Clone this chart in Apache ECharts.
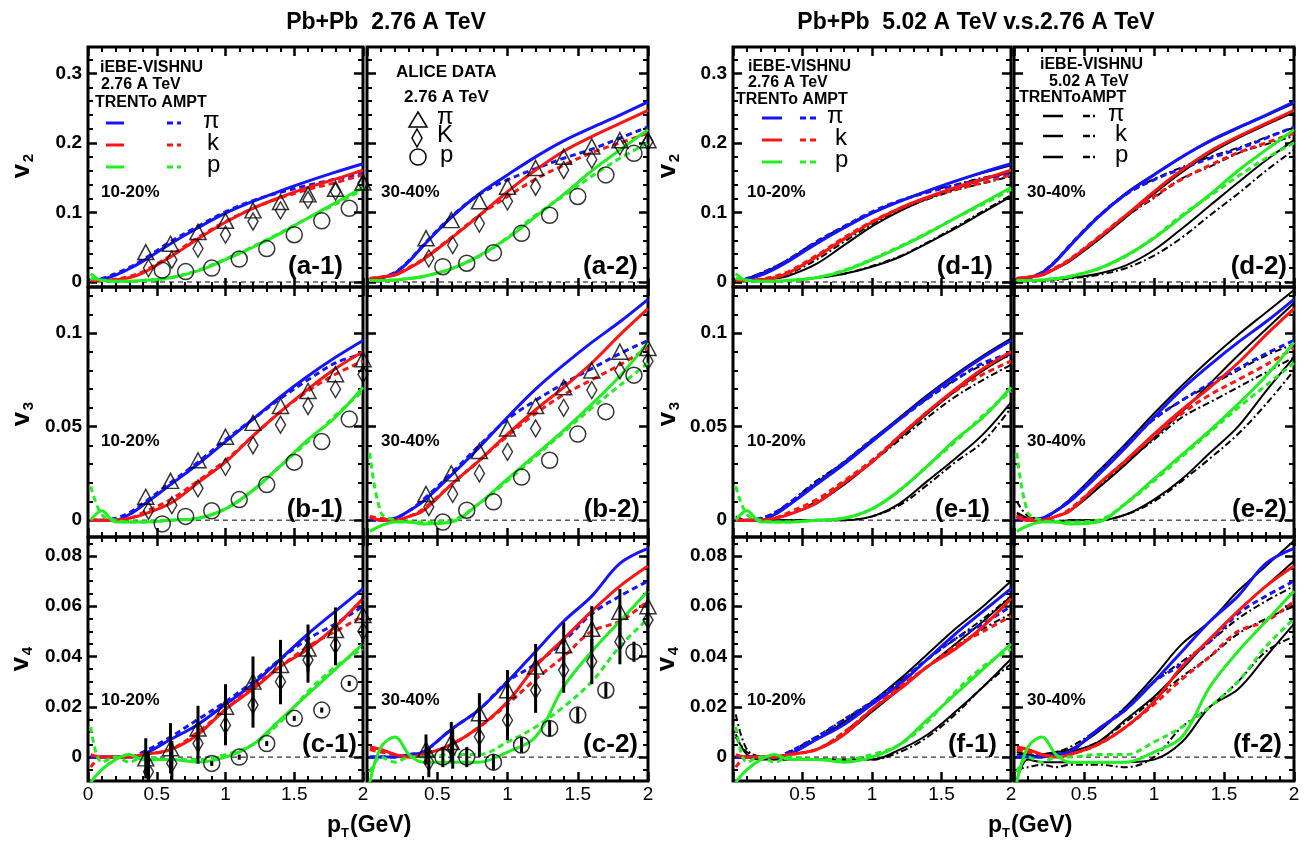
<!DOCTYPE html>
<html><head><meta charset="utf-8">
<script src="https://cdn.jsdelivr.net/npm/echarts@6/dist/echarts.min.js"></script>
<style>html,body{margin:0;padding:0;background:#fff}#c{width:1309px;height:843px}</style>
</head><body><div id="c"></div>
<script>
// ---------------- DATA ----------------
const PT = [0.02,0.1,0.2,0.3,0.4,0.6,0.8,1.0,1.2,1.4,1.6,1.8,2.0];

// iEBE-VISHNU 2.76 A TeV : TRENTo (_T) and AMPT (_A) initial conditions
// v2 10-20%
const A1_pi_T = [0.003,0.004,0.010,0.019,0.030,0.055,0.078,0.099,0.116,0.131,0.145,0.158,0.170];
const A1_pi_A = [0.003,0.005,0.012,0.021,0.032,0.058,0.080,0.101,0.117,0.129,0.139,0.148,0.156];
const A1_k_T  = [0.002,0.002,0.003,0.006,0.013,0.036,0.062,0.086,0.106,0.122,0.136,0.148,0.161];
const A1_k_A  = [0.002,0.002,0.004,0.008,0.015,0.038,0.064,0.087,0.106,0.121,0.133,0.143,0.154];
const A1_p_T  = [0.012,0.002,0.001,0.001,0.002,0.006,0.016,0.032,0.050,0.070,0.092,0.114,0.136];
const A1_p_A  = [0.005,0.003,0.001,0.001,0.002,0.006,0.017,0.033,0.051,0.071,0.092,0.112,0.133];
// v2 30-40%
const A2_pi_T = [0.004,0.006,0.013,0.030,0.052,0.093,0.127,0.154,0.180,0.203,0.222,0.240,0.259];
const A2_pi_A = [0.004,0.006,0.014,0.031,0.053,0.094,0.126,0.147,0.163,0.178,0.191,0.207,0.223];
const A2_k_T  = [0.005,0.007,0.010,0.020,0.032,0.063,0.096,0.130,0.161,0.188,0.209,0.228,0.247];
const A2_k_A  = [0.005,0.007,0.011,0.021,0.033,0.064,0.096,0.123,0.148,0.168,0.186,0.200,0.214];
const A2_p_T  = [0.002,0.002,0.003,0.005,0.008,0.019,0.038,0.063,0.094,0.126,0.160,0.190,0.219];
const A2_p_A  = [0.002,0.002,0.003,0.005,0.008,0.019,0.037,0.064,0.096,0.124,0.152,0.178,0.200];
// v3 10-20%
const B1_pi_T = [0.000,0.000,0.000,0.003,0.008,0.019,0.030,0.042,0.054,0.066,0.077,0.087,0.096];
const B1_pi_A = [0.000,0.000,0.001,0.004,0.009,0.020,0.031,0.043,0.054,0.065,0.075,0.084,0.089];
const B1_k_T  = [0.000,0.000,0.000,0.001,0.003,0.009,0.020,0.031,0.045,0.058,0.070,0.081,0.090];
const B1_k_A  = [0.000,0.000,0.000,0.001,0.004,0.011,0.021,0.032,0.045,0.058,0.069,0.078,0.085];
const B1_p_T  = [0.000,0.005,-0.001,-0.001,-0.001,0.000,0.001,0.006,0.016,0.029,0.043,0.055,0.071];
const B1_p_A  = [0.018,0.003,0.000,-0.001,-0.001,0.000,0.001,0.006,0.016,0.029,0.042,0.056,0.069];
// v3 30-40%
const B2_pi_T = [0.001,0.000,0.001,0.005,0.010,0.024,0.039,0.055,0.070,0.083,0.095,0.106,0.118];
const B2_pi_A = [0.001,0.000,0.001,0.005,0.011,0.025,0.040,0.054,0.064,0.073,0.081,0.089,0.096];
const B2_k_T  = [0.002,0.000,0.000,0.002,0.005,0.019,0.032,0.046,0.059,0.071,0.084,0.099,0.113];
const B2_k_A  = [0.002,0.001,0.000,0.002,0.006,0.019,0.032,0.045,0.057,0.067,0.075,0.083,0.092];
const B2_p_T  = [-0.006,-0.003,-0.001,-0.001,-0.002,-0.001,0.009,0.022,0.035,0.048,0.062,0.077,0.095];
const B2_p_A  = [0.036,0.004,0.000,-0.001,-0.001,0.000,0.009,0.021,0.034,0.047,0.060,0.072,0.084];
// v4 10-20%
const C1_pi_T = [0.000,0.000,0.000,0.000,0.001,0.007,0.013,0.021,0.029,0.039,0.049,0.058,0.067];
const C1_pi_A = [0.000,0.000,0.000,0.000,0.002,0.008,0.015,0.022,0.030,0.039,0.047,0.053,0.060];
const C1_k_T  = [0.001,0.000,0.000,0.000,0.001,0.003,0.009,0.019,0.027,0.036,0.043,0.052,0.063];
const C1_k_A  = [-0.004,0.000,0.000,0.000,0.001,0.003,0.010,0.019,0.028,0.036,0.044,0.050,0.056];
const C1_p_T  = [-0.010,-0.005,-0.001,0.001,-0.001,-0.001,-0.002,0.000,0.005,0.015,0.025,0.035,0.045];
const C1_p_A  = [0.012,-0.002,0.000,-0.002,0.000,-0.001,-0.001,0.001,0.005,0.014,0.026,0.036,0.043];
// v4 30-40%
const C2_pi_T = [0.000,0.000,0.000,0.001,0.002,0.011,0.019,0.030,0.042,0.054,0.064,0.077,0.083];
const C2_pi_A = [0.000,0.000,0.000,0.001,0.002,0.011,0.019,0.030,0.037,0.046,0.057,0.064,0.070];
const C2_k_T  = [0.004,0.003,0.001,0.000,0.001,0.005,0.012,0.022,0.036,0.047,0.058,0.068,0.076];
const C2_k_A  = [0.003,0.002,0.001,0.000,0.001,0.005,0.012,0.021,0.031,0.040,0.050,0.054,0.062];
const C2_p_T  = [-0.010,0.004,0.008,0.001,-0.002,-0.002,-0.002,0.002,0.008,0.028,0.042,0.054,0.066];
const C2_p_A  = [-0.006,0.000,-0.002,0.000,0.000,0.001,0.001,0.006,0.012,0.020,0.030,0.044,0.055];

// iEBE-VISHNU 5.02 A TeV (black curves)
const D1_pi_T = [0.003,0.005,0.012,0.021,0.032,0.057,0.079,0.099,0.116,0.131,0.145,0.157,0.168];
const D1_pi_A = [0.003,0.005,0.013,0.022,0.033,0.058,0.080,0.100,0.117,0.130,0.140,0.150,0.158];
const D1_k_T  = [0.002,0.002,0.003,0.005,0.009,0.026,0.053,0.080,0.102,0.120,0.134,0.147,0.158];
const D1_k_A  = [0.002,0.002,0.004,0.007,0.012,0.032,0.058,0.083,0.103,0.119,0.132,0.142,0.152];
const D1_p_T  = [0.002,0.002,0.001,0.001,0.002,0.006,0.012,0.022,0.036,0.056,0.077,0.100,0.123];
const D1_p_A  = [0.003,0.002,0.001,0.001,0.002,0.006,0.012,0.023,0.037,0.057,0.079,0.102,0.125];
const D2_pi_T = [0.004,0.006,0.014,0.031,0.053,0.094,0.128,0.155,0.180,0.202,0.221,0.239,0.257];
const D2_pi_A = [0.004,0.006,0.014,0.031,0.053,0.094,0.126,0.148,0.165,0.180,0.193,0.208,0.222];
const D2_k_T  = [0.005,0.007,0.010,0.019,0.030,0.060,0.093,0.127,0.158,0.185,0.207,0.226,0.244];
const D2_k_A  = [0.005,0.007,0.011,0.020,0.031,0.061,0.094,0.121,0.149,0.166,0.185,0.198,0.210];
const D2_p_T  = [0.002,0.002,0.002,0.004,0.006,0.012,0.024,0.046,0.077,0.110,0.143,0.175,0.204];
const D2_p_A  = [0.002,0.002,0.002,0.003,0.005,0.010,0.020,0.038,0.064,0.096,0.127,0.160,0.190];
const E1_pi_T = [0.000,0.000,0.000,0.003,0.008,0.020,0.031,0.043,0.055,0.067,0.078,0.088,0.097];
const E1_pi_A = [0.000,0.000,0.001,0.004,0.009,0.021,0.031,0.043,0.054,0.065,0.075,0.083,0.088];
const E1_k_T  = [0.000,0.000,0.000,0.001,0.003,0.009,0.019,0.031,0.044,0.057,0.069,0.080,0.089];
const E1_k_A  = [0.000,0.000,0.000,0.001,0.003,0.010,0.020,0.031,0.043,0.055,0.066,0.075,0.083];
const E1_p_T  = [0.000,0.000,0.000,0.000,0.000,0.000,0.000,0.002,0.009,0.021,0.033,0.046,0.063];
const E1_p_A  = [0.002,0.000,0.000,0.000,0.000,0.000,0.000,0.002,0.008,0.019,0.031,0.042,0.060];
const E2_pi_T = [0.002,0.001,0.001,0.005,0.011,0.026,0.041,0.057,0.072,0.086,0.099,0.111,0.123];
const E2_pi_A = [0.003,0.001,0.001,0.005,0.011,0.025,0.040,0.054,0.064,0.072,0.080,0.088,0.094];
const E2_k_T  = [0.002,0.001,0.000,0.002,0.005,0.017,0.030,0.044,0.058,0.073,0.088,0.102,0.116];
const E2_k_A  = [0.002,0.001,0.000,0.002,0.005,0.018,0.031,0.043,0.055,0.063,0.071,0.079,0.087];
const E2_p_T  = [0.004,0.001,-0.001,-0.001,0.000,0.000,0.003,0.011,0.022,0.036,0.050,0.069,0.087];
const E2_p_A  = [0.010,0.002,0.000,-0.001,0.000,0.000,0.003,0.010,0.021,0.033,0.046,0.062,0.080];
const F1_pi_T = [0.000,0.000,0.000,0.000,0.001,0.007,0.014,0.022,0.031,0.041,0.051,0.060,0.070];
const F1_pi_A = [0.008,0.002,0.000,0.000,0.002,0.008,0.015,0.022,0.030,0.039,0.047,0.055,0.064];
const F1_k_T  = [0.000,0.000,0.000,0.000,0.001,0.003,0.009,0.018,0.027,0.036,0.045,0.054,0.064];
const F1_k_A  = [0.000,0.000,0.000,0.000,0.001,0.003,0.010,0.019,0.028,0.036,0.044,0.051,0.057];
const F1_p_T  = [0.009,0.001,-0.001,-0.001,-0.001,-0.001,-0.001,-0.001,0.003,0.009,0.018,0.028,0.039];
const F1_p_A  = [0.017,0.003,0.000,-0.001,-0.001,-0.001,-0.001,-0.001,0.002,0.008,0.017,0.028,0.037];
const F2_pi_T = [0.000,0.000,0.001,0.002,0.003,0.010,0.020,0.032,0.045,0.054,0.066,0.076,0.086];
const F2_pi_A = [0.000,0.000,0.001,0.002,0.004,0.011,0.020,0.030,0.038,0.046,0.055,0.062,0.068];
const F2_k_T  = [0.001,0.001,0.000,0.001,0.002,0.006,0.015,0.024,0.035,0.047,0.058,0.068,0.078];
const F2_k_A  = [0.002,0.001,0.000,0.001,0.002,0.006,0.014,0.023,0.032,0.040,0.049,0.055,0.060];
const F2_p_T  = [-0.009,-0.001,-0.002,-0.002,-0.002,-0.002,-0.002,-0.001,0.006,0.020,0.027,0.040,0.053];
const F2_p_A  = [-0.005,-0.004,-0.003,-0.004,-0.003,-0.003,-0.004,0.000,0.012,0.020,0.030,0.042,0.048];

// ALICE data 2.76 A TeV
const X_PI = [0.42,0.6,0.8,1.0,1.2,1.4,1.6,1.8,2.0];
const X_K  = [0.44,0.61,0.8,1.0,1.2,1.4,1.6,1.8,2.0];
const X_P  = [0.54,0.71,0.9,1.1,1.3,1.5,1.7,1.9];
const A1_d_pi = [0.043,0.055,0.072,0.088,0.103,0.115,0.126,0.134,0.143];
const A1_d_k  = [0.020,0.032,0.048,0.068,0.087,0.103,0.118,0.130,0.142];
const A1_d_p  = [0.017,0.015,0.020,0.033,0.048,0.068,0.088,0.106];
const A2_d_pi = [0.063,0.089,0.116,0.137,0.164,0.180,0.195,0.204,0.204];
const A2_d_k  = [0.034,0.053,0.084,0.116,0.137,0.161,0.176,0.195,0.202];
const A2_d_p  = [0.022,0.027,0.042,0.070,0.096,0.123,0.154,0.185];
const B1_d_pi = [0.0125,0.021,0.032,0.0446,0.052,0.061,0.069,0.078,0.086];
const B1_d_k  = [0.005,0.008,0.017,0.0285,0.040,0.051,0.061,0.070,0.078];
const B1_d_p  = [-0.002,0.002,0.005,0.011,0.019,0.031,0.042,0.054];
const B2_d_pi = [0.014,0.025,0.037,0.049,0.061,0.071,0.080,0.090,0.092];
const B2_d_k  = [0.007,0.014,0.025,0.0365,0.049,0.060,0.0695,0.080,0.085];
const B2_d_p  = [-0.001,0.0053,0.0098,0.023,0.032,0.046,0.058,0.0775];
const C1_d_pi = [-0.0005,0.0035,0.0114,0.020,0.030,0.0366,0.0432,0.0505,0.0565];
const C1_d_k  = [-0.0058,-0.0025,0.0054,0.0127,0.0207,0.030,0.0386,0.0445,0.050];
const C1_d_p  = [null,null,-0.0025,0.0,0.0054,0.0154,0.0187,0.0293];
const C1_e_pi = [0.008,0.010,0.009,0.009,0.010,0.010,0.0095,0.009,0.007];
const C1_e_k  = [0.008,0.009,0.008,0.008,0.009,0.009,0.009,0.008,0.007];
const C1_e_p  = [0,0,0.001,0.001,0.001,0.001,0.001,0.001];
const C2_d_pi = [0.003,0.006,0.0174,0.0266,0.036,0.0445,0.051,0.0578,0.060];
const C2_d_k  = [-0.002,0.0034,0.0081,0.0147,0.0266,0.0346,0.038,0.0459,0.0545];
const C2_d_p  = [0.0,0.0,-0.002,0.0048,0.0114,0.0167,0.0266,0.0419];
const C2_e_pi = [0.006,0.008,0.008,0.008,0.009,0.009,0.009,0.009,0.008];
const C2_e_k  = [0.006,0.008,0.008,0.008,0.009,0.009,0.009,0.009,0.008];
const C2_e_p  = [0.004,0.004,0.003,0.003,0.003,0.003,0.003,0.004];

// tick labels
const X_TICKS = [0,0.5,1,1.5,2];
const V2_TICKS = [0,0.1,0.2,0.3];
const V3_TICKS = [0,0.05,0.1];
const V4_TICKS = [0,0.02,0.04,0.06,0.08];

// ---------------- LAYOUT ----------------
const FONT = "'Liberation Sans', Arial, Helvetica, sans-serif";
const COLS = [{left:88,width:275},{left:367,width:281},{left:733,width:278},{left:1014,width:280}];
const ROWS = [
  {top:47, height:240, min:-0.0072, max:0.338, major:V2_TICKS, step:0.02, from:0, to:0.34},
  {top:287,height:250, min:-0.009,  max:0.1246,major:V3_TICKS, step:0.01, from:0, to:0.125},
  {top:537,height:244, min:-0.0095, max:0.0875,major:V4_TICKS, step:0.005, from:-0.005, to:0.0875}
];
const BLUE='#1414ff', RED='#ff1414', GREEN='#22ee22';

const PANELS = [
  {row:0,col:0,lab:'(a-1)',lx:343,cent:'10-20%',m:[A1_pi_T,A1_pi_A,A1_k_T,A1_k_A,A1_p_T,A1_p_A],d:[A1_d_pi,A1_d_k,A1_d_p]},
  {row:0,col:1,lab:'(a-2)',lx:638,cent:'30-40%',m:[A2_pi_T,A2_pi_A,A2_k_T,A2_k_A,A2_p_T,A2_p_A],d:[A2_d_pi,A2_d_k,A2_d_p]},
  {row:1,col:0,lab:'(b-1)',lx:343,cent:'10-20%',m:[B1_pi_T,B1_pi_A,B1_k_T,B1_k_A,B1_p_T,B1_p_A],d:[B1_d_pi,B1_d_k,B1_d_p]},
  {row:1,col:1,lab:'(b-2)',lx:640,cent:'30-40%',m:[B2_pi_T,B2_pi_A,B2_k_T,B2_k_A,B2_p_T,B2_p_A],d:[B2_d_pi,B2_d_k,B2_d_p]},
  {row:2,col:0,lab:'(c-1)',lx:357,cent:'10-20%',m:[C1_pi_T,C1_pi_A,C1_k_T,C1_k_A,C1_p_T,C1_p_A],d:[C1_d_pi,C1_d_k,C1_d_p],e:[C1_e_pi,C1_e_k,C1_e_p]},
  {row:2,col:1,lab:'(c-2)',lx:638,cent:'30-40%',m:[C2_pi_T,C2_pi_A,C2_k_T,C2_k_A,C2_p_T,C2_p_A],d:[C2_d_pi,C2_d_k,C2_d_p],e:[C2_e_pi,C2_e_k,C2_e_p]},
  {row:0,col:2,lab:'(d-1)',lx:993,cent:'10-20%',m:[A1_pi_T,A1_pi_A,A1_k_T,A1_k_A,A1_p_T,A1_p_A],b:[D1_pi_T,D1_pi_A,D1_k_T,D1_k_A,D1_p_T,D1_p_A]},
  {row:0,col:3,lab:'(d-2)',lx:1287,cent:'30-40%',m:[A2_pi_T,A2_pi_A,A2_k_T,A2_k_A,A2_p_T,A2_p_A],b:[D2_pi_T,D2_pi_A,D2_k_T,D2_k_A,D2_p_T,D2_p_A]},
  {row:1,col:2,lab:'(e-1)',lx:990,cent:'10-20%',m:[B1_pi_T,B1_pi_A,B1_k_T,B1_k_A,B1_p_T,B1_p_A],b:[E1_pi_T,E1_pi_A,E1_k_T,E1_k_A,E1_p_T,E1_p_A]},
  {row:1,col:3,lab:'(e-2)',lx:1287,cent:'30-40%',m:[B2_pi_T,B2_pi_A,B2_k_T,B2_k_A,B2_p_T,B2_p_A],b:[E2_pi_T,E2_pi_A,E2_k_T,E2_k_A,E2_p_T,E2_p_A]},
  {row:2,col:2,lab:'(f-1)',lx:997,cent:'10-20%',m:[C1_pi_T,C1_pi_A,C1_k_T,C1_k_A,C1_p_T,C1_p_A],b:[F1_pi_T,F1_pi_A,F1_k_T,F1_k_A,F1_p_T,F1_p_A]},
  {row:2,col:3,lab:'(f-2)',lx:1282,cent:'30-40%',m:[C2_pi_T,C2_pi_A,C2_k_T,C2_k_A,C2_p_T,C2_p_A],b:[F2_pi_T,F2_pi_A,F2_k_T,F2_k_A,F2_p_T,F2_p_A]}
];
const CENT_X = [101,381,747,1027], CENT_Y = [192,441,700], LAB_Y = [267,510,745];

function minorList(R){ const out=[]; const n=Math.round((R.to-R.from)/R.step);
  for(let i=0;i<=n;i++){ const v=+(R.from+i*R.step).toFixed(4); if(!R.major.some(m=>Math.abs(m-v)<1e-9) && v>R.min && v<R.max) out.push(v);} return out; }

const grids=[], xAxes=[], yAxes=[], series=[], graphic=[];
const pairs=(X,Y)=>X.map((x,i)=>[x,Y[i]]).filter(d=>d[1]!=null);

PANELS.forEach((p,gi)=>{
  const C=COLS[p.col], R=ROWS[p.row];
  grids.push({left:C.left,top:R.top,width:C.width,height:R.height,show:true,borderColor:'#000',borderWidth:3,
    backgroundColor:'rgba(0,0,0,0)',containLabel:false,outerBoundsMode:'none'});
  ['bottom','top'].forEach((pos,k)=>xAxes.push({type:'value',gridIndex:gi,position:pos,min:0,max:2,interval:0.5,
    axisLine:{show:false,onZero:false},splitLine:{show:false},
    axisTick:{show:true,inside:true,length:9,lineStyle:{color:'#000',width:2.5}},
    minorTick:{show:true,splitNumber:5,length:5,lineStyle:{color:'#000',width:2}},
    axisLabel:{show:p.row===2&&k===0,margin:4,color:'#000',fontSize:19,fontFamily:FONT,showMinLabel:true,showMaxLabel:true,
      customValues:X_TICKS,formatter:v=>(v===0&&p.col!==0)?'':String(v)}}));
  const minors=minorList(R);
  ['left','right'].forEach((pos,k)=>{
    yAxes.push({type:'value',gridIndex:gi,position:pos,min:R.min,max:R.max,
      axisLine:{show:false,onZero:false},splitLine:{show:false},
      axisTick:{show:true,inside:true,length:9,customValues:R.major,lineStyle:{color:'#000',width:2.5}},
      axisLabel:{show:k===0&&(p.col===0||p.col===2),customValues:R.major,margin:6,color:'#000',fontSize:19,fontWeight:'bold',fontFamily:FONT}});
    yAxes.push({type:'value',gridIndex:gi,position:pos,min:R.min,max:R.max,
      axisLine:{show:false,onZero:false},splitLine:{show:false},
      axisTick:{show:true,inside:true,length:5,customValues:minors,lineStyle:{color:'#000',width:2}},
      axisLabel:{show:false}});
  });
  const xi=gi*2, yi=gi*4;
  series.push({type:'line',xAxisIndex:xi,yAxisIndex:yi,data:[[0,0],[2,0]],symbol:'none',silent:true,z:1,
    lineStyle:{color:'#000',width:1,type:[5,4]}});
  const line=(Y,color,width,type,z)=>({type:'line',xAxisIndex:xi,yAxisIndex:yi,data:pairs(PT,Y),symbol:'none',
    smooth:0.35,silent:true,z,lineStyle:{color,width,type}});
  if(p.b){
    p.b.forEach((Y,i)=>series.push(line(Y,'#000',2,i%2===0?'solid':[7,3,2,3],2)));
  }
  const cols=[BLUE,BLUE,RED,RED,GREEN,GREEN];
  p.m.forEach((Y,i)=>series.push(line(Y,cols[i],3,i%2===0?'solid':[6,4],3)));
  if(p.d){
    const Xs=[X_PI,X_K,X_P];
    const sym=[['triangle',[16,15]],['diamond',[10,17]],['circle',16]];
    if(p.e){
      p.d.forEach((Y,j)=>series.push({type:'custom',xAxisIndex:xi,yAxisIndex:yi,silent:true,z:4,clip:true,
        data:Xs[j].map((x,i)=>[x,Y[i],p.e[j][i]]).filter(d=>d[1]!=null),
        renderItem:(params,api)=>{const x=api.value(0),y=api.value(1),e=api.value(2);
          const a=api.coord([x,y-e]),b=api.coord([x,y+e]);
          return {type:'line',shape:{x1:a[0],y1:a[1],x2:b[0],y2:b[1]},style:{stroke:'#000',lineWidth:3}};}}));
    }
    p.d.forEach((Y,j)=>series.push({type:'scatter',xAxisIndex:xi,yAxisIndex:yi,data:pairs(Xs[j],Y),silent:true,z:5,
      symbol:sym[j][0],symbolSize:sym[j][1],itemStyle:{color:'rgba(0,0,0,0)',borderColor:'#000',borderWidth:1.5}}));
  }
  graphic.push(txt(p.lab,p.lx,LAB_Y[p.row],'bold 26px '+FONT,'right'));
  graphic.push(txt(p.cent,CENT_X[p.col],CENT_Y[p.row],'bold 17px '+FONT,'left'));
});

function txt(t,x,y,font,align,extra){
  return Object.assign({type:'text',x,y,z:100,silent:true,style:{text:t,font,fill:'#000',align:align||'left',textAlign:align||'left',
    verticalAlign:'middle',textVerticalAlign:'middle'}},extra||{});
}
function seg(x1,x2,y,color,dash,w){
  return {type:'line',z:100,silent:true,shape:{x1,y1:y,x2,y2:y},style:{stroke:color,lineWidth:w||3,lineDash:dash||null}};
}
// titles
graphic.push(txt('Pb+Pb  2.76 A TeV',386,23,'bold 23px '+FONT,'center'));
graphic.push(txt('Pb+Pb  5.02 A TeV v.s.2.76 A TeV',976,23,'bold 23px '+FONT,'center'));
// y titles
function vlab(n,cx,cy){
  return {type:'group',x:cx,y:cy,rotation:Math.PI/2,z:100,silent:true,children:[
    {type:'text',x:-3,y:0,style:{text:'v',font:'bold 26px '+FONT,fill:'#000',align:'center',textAlign:'center',verticalAlign:'middle',textVerticalAlign:'middle'}},
    {type:'text',x:10,y:7,style:{text:n,font:'bold 15px '+FONT,fill:'#000',align:'center',textAlign:'center',verticalAlign:'middle',textVerticalAlign:'middle'}}]};
}
[[22,168],[22,416],[21,661]].forEach((c,i)=>graphic.push(vlab(String(i+2),c[0],c[1])));
[[668,168],[668,416],[667,661]].forEach((c,i)=>graphic.push(vlab(String(i+2),c[0],c[1])));
// x titles
[327,988].forEach(x0=>{
  graphic.push(txt('p',x0,826,'bold 23px '+FONT,'left'));
  graphic.push(txt('T',x0+14,833,'bold 13px '+FONT,'left'));
  graphic.push(txt('(GeV)',x0+23,826,'bold 23px '+FONT,'left'));
});
// legend a-1
graphic.push(txt('iEBE-VISHNU',100,68,'bold 16px '+FONT));
graphic.push(txt('2.76 A TeV',101,85,'bold 16px '+FONT));
graphic.push(txt('TRENTo AMPT',95,103,'bold 16px '+FONT));
[[123,BLUE,'π',203],[145,RED,'k',207],[167,GREEN,'p',207]].forEach(r=>{
  graphic.push(seg(106,124,r[0],r[1]));
  graphic.push(seg(167,181,r[0],r[1],[6,4]));
  graphic.push(txt(r[2],r[3],r[0]-2,'24px '+FONT));
});
// legend a-2 (ALICE)
graphic.push(txt('ALICE DATA',396,72,'bold 17px '+FONT));
graphic.push(txt('2.76 A TeV',404,97,'bold 17px '+FONT));
graphic.push({type:'polygon',z:100,silent:true,shape:{points:[[418,112],[427,127],[409,127]]},style:{fill:'none',stroke:'#000',lineWidth:1.5}});
graphic.push({type:'polygon',z:100,silent:true,shape:{points:[[417,129],[422,138],[417,147],[412,138]]},style:{fill:'none',stroke:'#000',lineWidth:1.5}});
graphic.push({type:'circle',z:100,silent:true,shape:{cx:418,cy:157,r:8},style:{fill:'none',stroke:'#000',lineWidth:1.5}});
graphic.push(txt('π',437,117,'24px '+FONT));
graphic.push(txt('K',437,135,'24px '+FONT));
graphic.push(txt('p',440,155,'24px '+FONT));
// legend d-1
graphic.push(txt('iEBE-VISHNU',748,67,'bold 16px '+FONT));
graphic.push(txt('2.76 A TeV',748,83,'bold 16px '+FONT));
graphic.push(txt('TRENTo AMPT',736,100,'bold 16px '+FONT));
[[118,BLUE,'π',827],[140,RED,'k',835],[162,GREEN,'p',835]].forEach(r=>{
  graphic.push(seg(762,782,r[0],r[1]));
  graphic.push(seg(800,818,r[0],r[1],[6,4]));
  graphic.push(txt(r[2],r[3],r[0]-2,'24px '+FONT));
});
// legend d-2
graphic.push(txt('iEBE-VISHNU',1040,65,'bold 16px '+FONT));
graphic.push(txt('5.02 A TeV',1049,82,'bold 16px '+FONT));
graphic.push(txt('TRENToAMPT',1019,98,'bold 16px '+FONT));
[[116,'π',1108],[136,'k',1115],[157,'p',1115]].forEach(r=>{
  graphic.push(seg(1043,1063,r[0],'#000',null,2.5));
  graphic.push(seg(1083,1098,r[0],'#000',[7,3,2,3],2.5));
  graphic.push(txt(r[1],r[2],r[0]-2,'24px '+FONT));
});

const chart=echarts.init(document.getElementById('c'),null,{renderer:'canvas',width:1309,height:843});
chart.setOption({animation:false,backgroundColor:'#fff',textStyle:{fontFamily:FONT},
  grid:grids,xAxis:xAxes,yAxis:yAxes,series,graphic});
</script></body></html>
